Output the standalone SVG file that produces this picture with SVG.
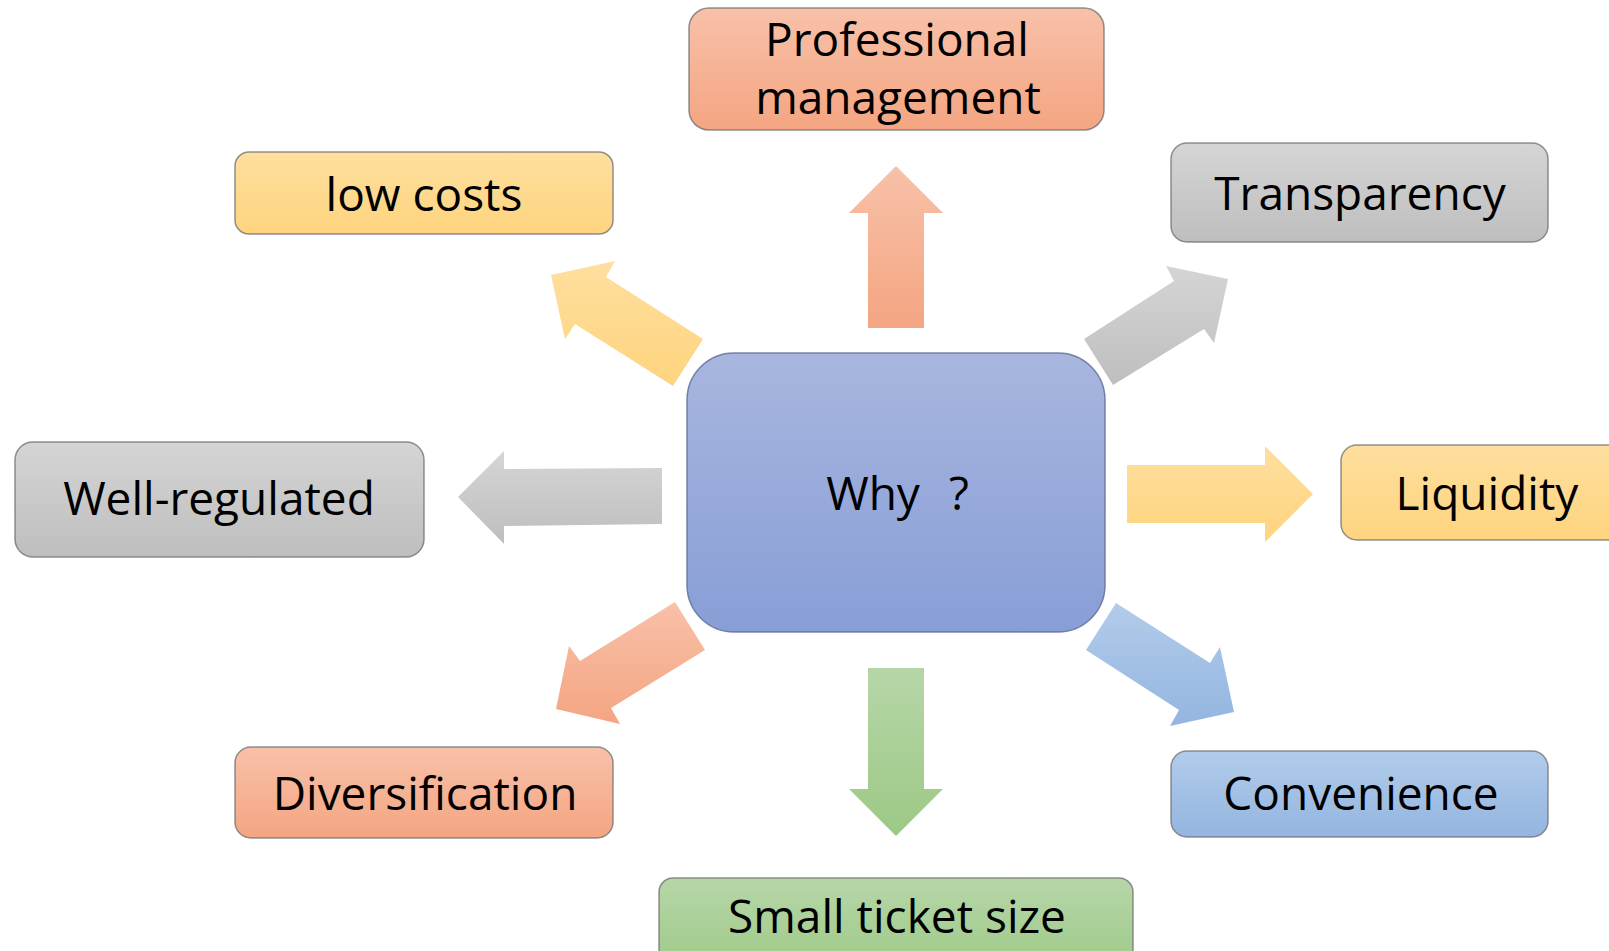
<svg xmlns="http://www.w3.org/2000/svg" width="1609" height="951" viewBox="0 0 1609 951">
  <style>
    .lbl { font-family: "Open Sans", "Liberation Sans", sans-serif; font-size: 46px; fill: #000; text-anchor: middle; }
    .box { stroke: #6e6e6e; stroke-opacity: 0.75; stroke-width: 1.5; }
    .hub { stroke: #5b6a98; stroke-opacity: 0.8; stroke-width: 1.5; }
  </style>
  <defs>
    <linearGradient id="gOrange" x1="0" y1="0" x2="0" y2="1">
      <stop offset="0" stop-color="#F8C1A9"/>
      <stop offset="1" stop-color="#F4A581"/>
    </linearGradient>
    <linearGradient id="gYellow" x1="0" y1="0" x2="0" y2="1">
      <stop offset="0" stop-color="#FEDF9F"/>
      <stop offset="1" stop-color="#FED47E"/>
    </linearGradient>
    <linearGradient id="gGray" x1="0" y1="0" x2="0" y2="1">
      <stop offset="0" stop-color="#D5D5D5"/>
      <stop offset="1" stop-color="#BEBEBE"/>
    </linearGradient>
    <linearGradient id="gBlue" x1="0" y1="0" x2="0" y2="1">
      <stop offset="0" stop-color="#B2CCEA"/>
      <stop offset="1" stop-color="#93B5E0"/>
    </linearGradient>
    <linearGradient id="gGreen" x1="0" y1="0" x2="0" y2="1">
      <stop offset="0" stop-color="#B6D6A8"/>
      <stop offset="1" stop-color="#9CC985"/>
    </linearGradient>
    <linearGradient id="gHub" x1="0" y1="0" x2="0" y2="1">
      <stop offset="0" stop-color="#A8B6DF"/>
      <stop offset="1" stop-color="#889ED6"/>
    </linearGradient>
  </defs>
  <rect width="1609" height="951" fill="#FFFFFF"/>

  <g id="connectors">
    <polygon fill="url(#gOrange)" points="868,328 868,213 849,213 896,166 943,213 924,213 924,328"/>
    <polygon fill="url(#gYellow)" points="703,339 606,277 615,261 551,275 565,339 575,324 673,386"/>
    <polygon fill="url(#gGray)" points="1084,339 1174,281 1166,266 1228,279 1214,343 1204,329 1113,385"/>
    <polygon fill="url(#gYellow)" points="1127,465 1265,465 1265,446 1313,494 1265,542 1265,523 1127,523"/>
    <polygon fill="url(#gGray)" points="662,468 504,469 504,451 458,497 504,544 504,526 662,524"/>
    <polygon fill="url(#gOrange)" points="675,602 580,661 569,646 556,709 620,724 611,708 705,650"/>
    <polygon fill="url(#gBlue)" points="1116,603 1210,663 1220,647 1234,712 1170,726 1179,710 1086,650"/>
    <polygon fill="url(#gGreen)" points="868,668 924,668 924,789 943,789 896,836 849,789 868,789"/>
  </g>

  <g id="hub">
    <rect class="hub" x="687" y="353" width="418" height="279" rx="47" fill="url(#gHub)"/>
    <text class="lbl" x="879" y="510">Why <tspan x="959">?</tspan></text>
  </g>

  <g id="node-professional">
    <rect class="box" x="689" y="8" width="415" height="122" rx="20" fill="url(#gOrange)"/>
    <text class="lbl" x="897" y="56">Professional</text>
    <text class="lbl" x="898" y="114">management</text>
  </g>

  <g id="node-lowcosts">
    <rect class="box" x="235" y="152" width="378" height="82" rx="14" fill="url(#gYellow)"/>
    <text class="lbl" x="424" y="211">low costs</text>
  </g>

  <g id="node-transparency">
    <rect class="box" x="1171" y="143" width="377" height="99" rx="16" fill="url(#gGray)"/>
    <text class="lbl" x="1360" y="210">Transparency</text>
  </g>

  <g id="node-wellregulated">
    <rect class="box" x="15" y="442" width="409" height="115" rx="18" fill="url(#gGray)"/>
    <text class="lbl" x="219" y="515">Well-regulated</text>
  </g>

  <g id="node-liquidity">
    <rect class="box" x="1341" y="445" width="300" height="95" rx="16" fill="url(#gYellow)"/>
    <text class="lbl" x="1487" y="510">Liquidity</text>
  </g>

  <g id="node-diversification">
    <rect class="box" x="235" y="747" width="378" height="91" rx="16" fill="url(#gOrange)"/>
    <text class="lbl" x="425" y="810">Diversification</text>
  </g>

  <g id="node-convenience">
    <rect class="box" x="1171" y="751" width="377" height="86" rx="16" fill="url(#gBlue)"/>
    <text class="lbl" x="1361" y="810">Convenience</text>
  </g>

  <g id="node-smallticket">
    <rect class="box" x="659" y="878" width="474" height="100" rx="14" fill="url(#gGreen)"/>
    <text class="lbl" x="897" y="933">Small ticket size</text>
  </g>
</svg>
